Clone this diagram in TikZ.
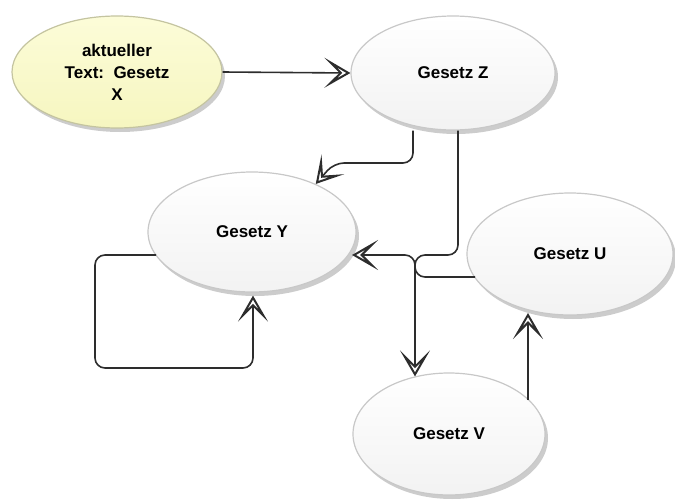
\documentclass[tikz,border=0pt]{standalone}
\usepackage{fontspec}
\setmainfont{Liberation Sans}
\usetikzlibrary{shapes.geometric, arrows.meta, shadows, calc}

\definecolor{linkgray}{RGB}{45,45,45}
\definecolor{rimgray}{RGB}{200,200,200}
\definecolor{palecream}{RGB}{252,252,216}
\definecolor{deepcream}{RGB}{246,246,192}
\definecolor{olivegray}{RGB}{196,196,160}

\begin{document}
\begin{tikzpicture}[x=1pt, y=-1pt,
  law/.style={ellipse, draw=rimgray, line width=1.2pt, inner sep=0pt,
    top color=white, middle color=white, bottom color=gray!10,
    drop shadow={shadow xshift=3pt, shadow yshift=-4pt, fill=black, opacity=0.2},
    font=\bfseries\fontsize{17}{22}\selectfont, align=center},
  current/.style={law, draw=olivegray, top color=palecream, middle color=palecream, bottom color=deepcream},
  opentip/.tip={Stealth[open, length=26pt, width=30pt, inset=15pt, fill=white, line width=2pt]},
  link/.style={draw=linkgray, line width=1.6pt, rounded corners=10pt, -opentip}
]
\useasboundingbox (0,0) rectangle (675,503);

% the five laws
\node[current, minimum width=210pt, minimum height=112pt] (X) at (117,72)
  {aktueller\\Text:\ \ Gesetz\\X};
\node[law, minimum width=204pt, minimum height=114pt] (Z) at (453,73) {Gesetz Z};
\node[law, minimum width=208pt, minimum height=120pt] (Y) at (252,232) {Gesetz Y};
\node[law, minimum width=206pt, minimum height=122pt] (U) at (570,254) {Gesetz U};
\node[law, minimum width=192pt, minimum height=122pt] (V) at (449,434) {Gesetz V};

% references between the laws
\draw[link] (X.east) -- (Z.west);
\draw[link] ($(Z.south)+(-40,0)$) -- (413,163) -- (334,163) -- (Y.37);
\draw[link] ($(Z.south)+(5,0)$) -- (458,255) -- (415,255) -- ($(V.north)+(-34,4)$);
\draw[link] ($(U.center)+(-95,23)$) -- (415,277) -- (415,255) -- ($(Y.center)+(100,23)$);
\draw[link] ($(V.center)+(79,-34)$) -- ($(U.center)+(-42,59)$);
\draw[link] ($(Y.center)+(-96,23)$) -- (95,255) -- (95,368) -- (253,368) -- ($(Y.south)+(1,3)$);
\end{tikzpicture}
\end{document}
